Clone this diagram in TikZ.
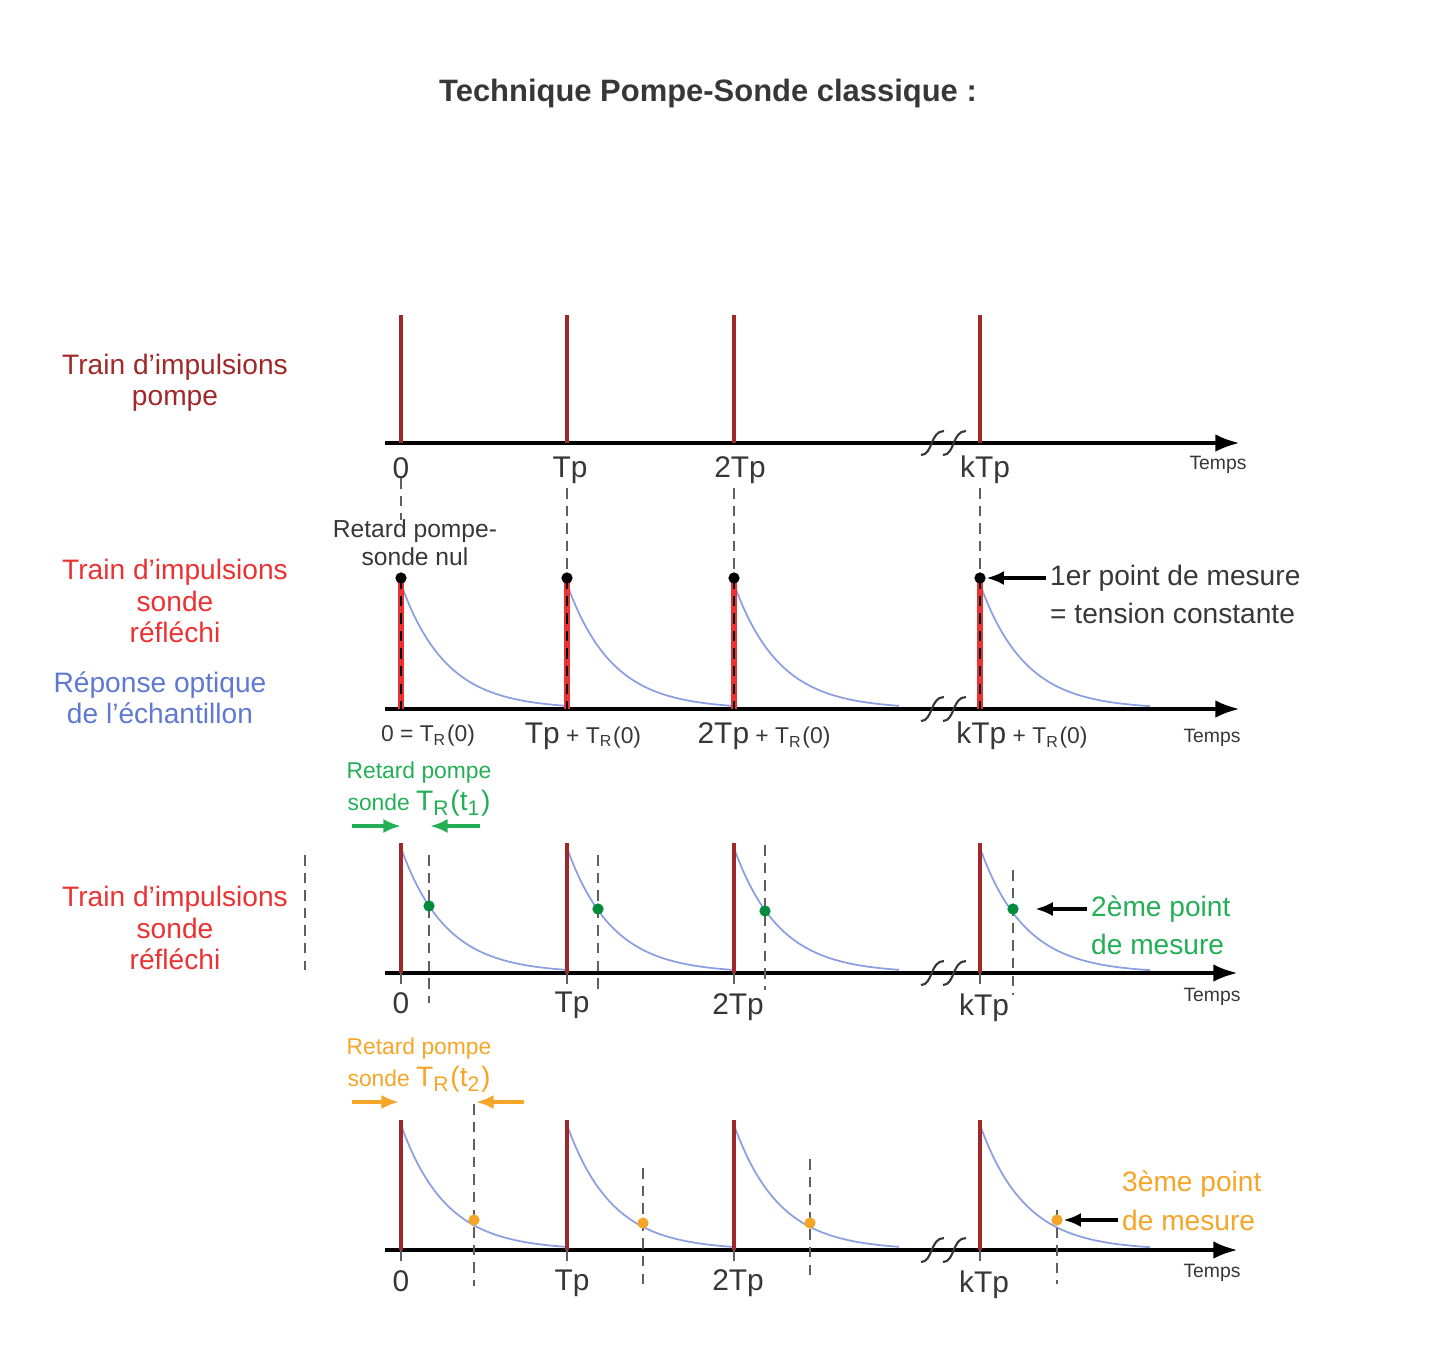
\documentclass[tikz,border=0pt]{standalone}
\usepackage{fontspec}
\setmainfont{Liberation Sans}
\usetikzlibrary{positioning,arrows.meta}

\definecolor{pumpred}{RGB}{160,40,40}
\definecolor{probered}{RGB}{235,50,50}
\definecolor{respblue}{RGB}{140,160,225}
\definecolor{lblblue}{RGB}{95,120,210}
\definecolor{delaygreen}{RGB}{35,175,85}
\definecolor{dotgreen}{RGB}{0,140,60}
\definecolor{delayorange}{RGB}{245,165,40}
\definecolor{txtgrey}{RGB}{55,55,55}

\begin{document}
\begin{tikzpicture}[x=0.01cm, y=-0.01cm,
	ax/.style={line width=1.2pt, -{Latex[length=7pt,width=5pt]}},
	pp/.style={pumpred, line width=1.2pt},
	pr/.style={probered, line width=1.5pt},
	dl/.style={txtgrey!80, dash pattern=on 3pt off 2pt, line width=0.4pt},
	dc/.style={respblue, line width=0.5pt},
	brk/.style={txtgrey, line width=0.6pt},
	tk/.style={font=\fontsize{8.5}{9}\selectfont, txtgrey},
	tm/.style={font=\fontsize{5.5}{6}\selectfont, txtgrey},
	sm/.style={font=\fontsize{6.5}{7}\selectfont, txtgrey, inner sep=1pt},
	side/.style={font=\fontsize{8}{8.9}\selectfont, align=center},
	note/.style={font=\fontsize{8}{9}\selectfont, inner sep=1pt},
	dot/.style={circle, inner sep=0pt, minimum size=3.2pt},
	pt/.style={-{Latex[length=5pt,width=4pt]}, line width=1.1pt}]
	\useasboundingbox (0,0) rectangle (1433,1363);

	\node[font=\fontsize{8.8}{10}\selectfont\bfseries, txtgrey] (title) at (708,93) {Technique Pompe-Sonde classique :};

	\node[side, pumpred] (lpump) at (175,383) {Train d'impulsions\\pompe};
	\node[side, probered] (lprobe) at (175,601) {Train d'impulsions\\sonde\\réfléchi};
	\node[side, lblblue] (lresp) at (160,698) {Réponse optique\\de l'échantillon};
	\node[side, probered] (lprobe2) at (175,928) {Train d'impulsions\\sonde\\réfléchi};
	\draw[dl] (305,855) -- (305,970);

	\draw[ax] (385,443) -- (1240,443);
	\draw[pp] (401,443) -- (401,315);
	\draw[pp] (567,443) -- (567,315);
	\draw[pp] (734,443) -- (734,315);
	\draw[pp] (980,443) -- (980,315);
	\draw[brk] (921,455) .. controls (933,455) and (930,431) .. (944,431);
	\draw[brk] (943,455) .. controls (955,455) and (952,431) .. (966,431);
	\node[tk] (a0) at (401,468) {0};
	\node[tk] (a1) at (570,470) {Tp};
	\node[tk] (a2) at (740,470) {2Tp};
	\node[tk] (ak) at (985,470) {kTp};
	\node[tm] (at) at (1218,465) {Temps};

	\draw[dl] (401,478) -- (401,520);
	\draw[dl] (567,488) -- (567,575);
	\draw[dl] (734,488) -- (734,575);
	\draw[dl] (980,488) -- (980,575);

	\draw[ax] (385,709) -- (1240,709);
	\draw[dc] plot[domain=0:165, samples=40] ({401+\x}, {709-125*exp(-\x/45)});
	\draw[dc] plot[domain=0:165, samples=40] ({567+\x}, {709-125*exp(-\x/45)});
	\draw[dc] plot[domain=0:165, samples=40] ({734+\x}, {709-125*exp(-\x/45)});
	\draw[dc] plot[domain=0:170, samples=40] ({980+\x}, {709-125*exp(-\x/45)});
	\draw[pr] (401,709) -- (401,578);
	\draw[pr] (567,709) -- (567,578);
	\draw[pr] (734,709) -- (734,578);
	\draw[pr] (980,709) -- (980,578);
	\draw[dl, black] (401,578) -- (401,709);
	\draw[dl, black] (567,578) -- (567,709);
	\draw[dl, black] (734,578) -- (734,709);
	\draw[dl, black] (980,578) -- (980,709);
	\draw[brk] (921,721) .. controls (933,721) and (930,697) .. (944,697);
	\draw[brk] (943,721) .. controls (955,721) and (952,697) .. (966,697);
	\node[dot, fill=black] (p0) at (401,578) {};
	\node[dot, fill=black] (p1) at (567,578) {};
	\node[dot, fill=black] (p2) at (734,578) {};
	\node[dot, fill=black] (pk) at (980,578) {};
	\node[sm, align=center, font=\fontsize{7}{8}\selectfont] (r0) at (415,543) {Retard pompe-\\sonde nul};
	\node[note, anchor=west, txtgrey] (m1) at (1046,578) {1er point de mesure};
	\node[note, below=1pt of m1.south west, anchor=north west, txtgrey] (m1b) {= tension constante};
	\draw[pt] (m1.west) -- (pk.east);
	\node[sm] (b0) at (428,736) {0 = T\textsubscript{R}(0)};
	\node[sm] (b1) at (583,736) {{\fontsize{8.5}{9}\selectfont Tp} + T\textsubscript{R}(0)};
	\node[sm] (b2) at (764,736) {{\fontsize{8.5}{9}\selectfont 2Tp} + T\textsubscript{R}(0)};
	\node[sm] (bk) at (1022,736) {{\fontsize{8.5}{9}\selectfont kTp} + T\textsubscript{R}(0)};
	\node[tm] (bt) at (1212,738) {Temps};

	\node[sm, delaygreen] (g1) at (419,773) {Retard pompe};
	\node[sm, delaygreen] (g2) at (419,803) {sonde {\fontsize{8}{9}\selectfont T\textsubscript{R}(t\textsubscript{1})}};
	\coordinate (g1l) at (352,826);
	\coordinate (g1r) at (401,826);
	\coordinate (g2r) at (480,826);
	\coordinate (g2l) at (430,826);
	\draw[pt, delaygreen] (g1l) -- (g1r);
	\draw[pt, delaygreen] (g2r) -- (g2l);

	\draw[ax] (385,973) -- (1238,973);
	\draw[dc] plot[domain=0:165, samples=40] ({401+\x}, {973-125*exp(-\x/45)});
	\draw[dc] plot[domain=0:165, samples=40] ({567+\x}, {973-125*exp(-\x/45)});
	\draw[dc] plot[domain=0:165, samples=40] ({734+\x}, {973-125*exp(-\x/45)});
	\draw[dc] plot[domain=0:170, samples=40] ({980+\x}, {973-125*exp(-\x/45)});
	\draw[pp] (401,973) -- (401,843);
	\draw[pp] (567,973) -- (567,843);
	\draw[pp] (734,973) -- (734,843);
	\draw[pp] (980,973) -- (980,843);
	\draw[dl] (401,973) -- (401,990);
	\draw[dl] (567,973) -- (567,990);
	\draw[dl] (734,973) -- (734,990);
	\draw[dl] (980,973) -- (980,990);
	\draw[dl] (429,855) -- (429,1003);
	\draw[dl] (598,855) -- (598,995);
	\draw[dl] (765,845) -- (765,990);
	\draw[dl] (1013,870) -- (1013,995);
	\draw[brk] (921,985) .. controls (933,985) and (930,961) .. (944,961);
	\draw[brk] (943,985) .. controls (955,985) and (952,961) .. (966,961);
	\node[dot, fill=dotgreen] (q0) at (429,906) {};
	\node[dot, fill=dotgreen] (q1) at (598,909) {};
	\node[dot, fill=dotgreen] (q2) at (765,911) {};
	\node[dot, fill=dotgreen] (qk) at (1013,909) {};
	\node[note, anchor=west, delaygreen] (m2) at (1087,909) {2ème point};
	\node[note, below=1pt of m2.south west, anchor=north west, delaygreen] (m2b) {de mesure};
	\draw[pt] (m2.west) -- ([xshift=4.5pt]qk.east);
	\node[tk] (c0) at (401,1003) {0};
	\node[tk] (c1) at (572,1005) {Tp};
	\node[tk] (c2) at (738,1007) {2Tp};
	\node[tk] (ck) at (984,1008) {kTp};
	\node[tm] (ct) at (1212,997) {Temps};

	\node[sm, delayorange] (o1) at (419,1049) {Retard pompe};
	\node[sm, delayorange] (o2) at (419,1079) {sonde {\fontsize{8}{9}\selectfont T\textsubscript{R}(t\textsubscript{2})}};
	\coordinate (o1l) at (352,1102);
	\coordinate (o1r) at (399,1102);
	\coordinate (o2r) at (524,1102);
	\coordinate (o2l) at (476,1102);
	\draw[pt, delayorange] (o1l) -- (o1r);
	\draw[pt, delayorange] (o2r) -- (o2l);

	\draw[ax] (385,1250) -- (1238,1250);
	\draw[dc] plot[domain=0:165, samples=40] ({401+\x}, {1250-125*exp(-\x/45)});
	\draw[dc] plot[domain=0:165, samples=40] ({567+\x}, {1250-125*exp(-\x/45)});
	\draw[dc] plot[domain=0:165, samples=40] ({734+\x}, {1250-125*exp(-\x/45)});
	\draw[dc] plot[domain=0:170, samples=40] ({980+\x}, {1250-125*exp(-\x/45)});
	\draw[pp] (401,1250) -- (401,1120);
	\draw[pp] (567,1250) -- (567,1120);
	\draw[pp] (734,1250) -- (734,1120);
	\draw[pp] (980,1250) -- (980,1120);
	\draw[dl] (401,1250) -- (401,1267);
	\draw[dl] (567,1250) -- (567,1267);
	\draw[dl] (734,1250) -- (734,1267);
	\draw[dl] (980,1250) -- (980,1267);
	\draw[dl] (474,1104) -- (474,1286);
	\draw[dl] (643,1168) -- (643,1285);
	\draw[dl] (810,1159) -- (810,1278);
	\draw[dl] (1057,1210) -- (1057,1284);
	\draw[brk] (921,1262) .. controls (933,1262) and (930,1238) .. (944,1238);
	\draw[brk] (943,1262) .. controls (955,1262) and (952,1238) .. (966,1238);
	\node[dot, fill=delayorange] (s0) at (474,1220) {};
	\node[dot, fill=delayorange] (s1) at (643,1223) {};
	\node[dot, fill=delayorange] (s2) at (810,1223) {};
	\node[dot, fill=delayorange] (sk) at (1057,1220) {};
	\node[note, anchor=west, delayorange] (m3b) at (1118,1220) {de mesure};
	\node[note, above=1pt of m3b.north west, anchor=south west, delayorange] (m3) {3ème point};
	\draw[pt] (m3b.west) -- (sk.east);
	\node[tk] (e0) at (401,1281) {0};
	\node[tk] (e1) at (572,1283) {Tp};
	\node[tk] (e2) at (738,1283) {2Tp};
	\node[tk] (ek) at (984,1285) {kTp};
	\node[tm] (et) at (1212,1273) {Temps};
\end{tikzpicture}
\end{document}
